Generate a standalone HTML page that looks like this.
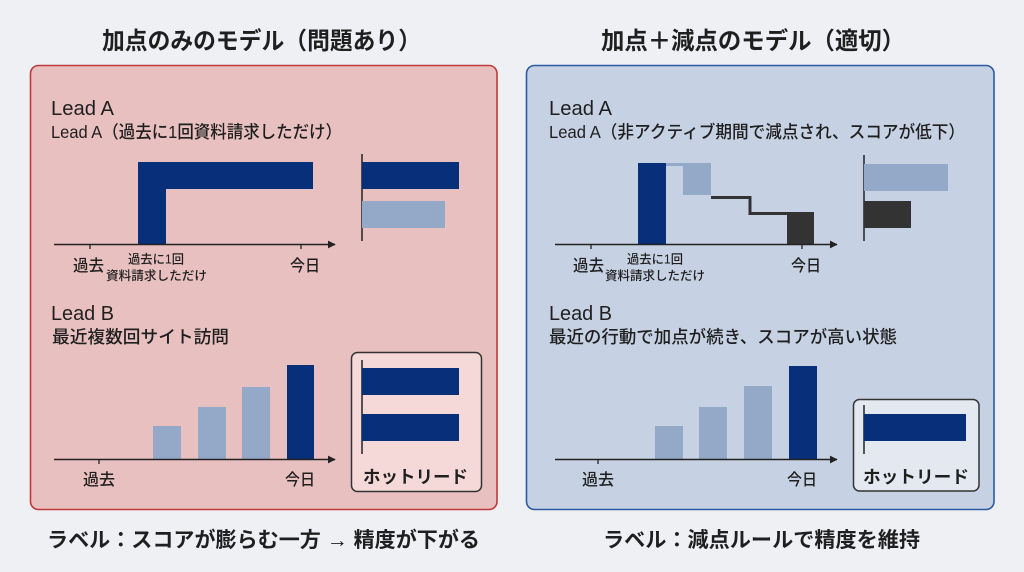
<!DOCTYPE html>
<html><head><meta charset="utf-8">
<style>
html,body{margin:0;padding:0;background:#eef0f4;}
svg{display:block;}
text{font-family:"Liberation Sans","Noto Sans CJK JP",sans-serif;fill:#1f1f1f;}
.t{font-weight:bold;font-size:24px;}
.cap{font-weight:bold;font-size:21px;}
.h{font-size:20px;font-weight:500;}
.s{font-size:17.5px;font-weight:500;}
.ax{font-size:16px;font-weight:500;}
.sm{font-size:12.5px;font-weight:500;}
.hot{font-size:17.5px;font-weight:bold;}
</style></head>
<body>
<svg width="1024" height="572" viewBox="0 0 1024 572" xmlns="http://www.w3.org/2000/svg">
<defs>
<marker id="ar" viewBox="0 0 10 10" refX="9" refY="5" markerWidth="8" markerHeight="8" markerUnits="userSpaceOnUse" orient="auto">
<path d="M0,0 L10,5 L0,10 z" fill="#222"/>
</marker>
</defs>
<rect width="1024" height="572" fill="#eef0f4"/>

<!-- Titles -->
<text class="t" x="102" y="49" textLength="319" lengthAdjust="spacingAndGlyphs">加点のみのモデル（問題あり）</text>
<text class="t" x="601" y="49" textLength="304" lengthAdjust="spacingAndGlyphs">加点＋減点のモデル（適切）</text>

<!-- Left panel -->
<rect x="30.5" y="65.5" width="466.5" height="444" rx="8" fill="#e8c0bf" stroke="#c0393a" stroke-width="1.6"/>
<text class="h" x="51" y="115" textLength="63" lengthAdjust="spacingAndGlyphs">Lead A</text>
<text class="s" x="51" y="138" textLength="291" lengthAdjust="spacingAndGlyphs">Lead A（過去に1回資料請求しただけ）</text>

<!-- chart A left -->
<rect x="138" y="162" width="28" height="82" fill="#08307a"/>
<rect x="138" y="162" width="175" height="27" fill="#08307a"/>
<line x1="54" y1="244.5" x2="335" y2="244.5" stroke="#222" stroke-width="1.5" marker-end="url(#ar)"/>
<line x1="90" y1="244" x2="90" y2="249" stroke="#222" stroke-width="1.3"/>
<line x1="301" y1="244" x2="301" y2="249" stroke="#222" stroke-width="1.3"/>
<text class="ax" x="73" y="271" textLength="31" lengthAdjust="spacingAndGlyphs">過去</text>
<text class="sm" x="128" y="263.5" textLength="56" lengthAdjust="spacingAndGlyphs">過去に1回</text>
<text class="sm" x="106" y="280" textLength="101" lengthAdjust="spacingAndGlyphs">資料請求しただけ</text>
<text class="ax" x="290" y="271" textLength="30" lengthAdjust="spacingAndGlyphs">今日</text>
<line x1="362" y1="154" x2="362" y2="241" stroke="#222" stroke-width="1.5"/>
<rect x="362" y="162" width="97" height="27" fill="#08307a"/>
<rect x="362" y="201" width="83" height="27" fill="#94a8c8"/>

<!-- Lead B left -->
<text class="h" x="51" y="320" textLength="63" lengthAdjust="spacingAndGlyphs">Lead B</text>
<text class="s" x="52" y="343" textLength="177" lengthAdjust="spacingAndGlyphs">最近複数回サイト訪問</text>
<rect x="153" y="426" width="28" height="33" fill="#94a8c8"/>
<rect x="198" y="407" width="28" height="52" fill="#94a8c8"/>
<rect x="242" y="387" width="28" height="72" fill="#94a8c8"/>
<rect x="287" y="365" width="27" height="94" fill="#08307a"/>
<line x1="54" y1="459.5" x2="335" y2="459.5" stroke="#222" stroke-width="1.5" marker-end="url(#ar)"/>
<line x1="99" y1="459" x2="99" y2="464" stroke="#222" stroke-width="1.3"/>
<text class="ax" x="83" y="485" textLength="32" lengthAdjust="spacingAndGlyphs">過去</text>
<text class="ax" x="285" y="485" textLength="30" lengthAdjust="spacingAndGlyphs">今日</text>
<rect x="351.5" y="352.5" width="130" height="139" rx="6" fill="#f5d9d8" stroke="#333" stroke-width="1.5"/>
<line x1="362" y1="360" x2="362" y2="454" stroke="#222" stroke-width="1.5"/>
<rect x="362" y="368" width="97" height="27" fill="#08307a"/>
<rect x="362" y="414" width="97" height="27" fill="#08307a"/>
<text class="hot" x="363" y="483" textLength="105" lengthAdjust="spacingAndGlyphs">ホットリード</text>

<!-- Right panel -->
<rect x="526.5" y="65.5" width="467.5" height="444" rx="8" fill="#c6d1e3" stroke="#2c5aa0" stroke-width="1.6"/>
<text class="h" x="549" y="115" textLength="63" lengthAdjust="spacingAndGlyphs">Lead A</text>
<text class="s" x="549" y="138" textLength="416" lengthAdjust="spacingAndGlyphs">Lead A（非アクティブ期間で減点され、スコアが低下）</text>

<rect x="638" y="163" width="28" height="81" fill="#08307a"/>
<rect x="666" y="163" width="17" height="3" fill="#94a8c8"/>
<rect x="683" y="163" width="28" height="32" fill="#94a8c8"/>
<polyline points="711,197.5 750,197.5 750,213.5 787,213.5" fill="none" stroke="#333" stroke-width="3"/>
<rect x="787" y="212" width="27" height="32" fill="#333"/>
<line x1="555" y1="244.5" x2="837" y2="244.5" stroke="#222" stroke-width="1.5" marker-end="url(#ar)"/>
<line x1="591" y1="244" x2="591" y2="249" stroke="#222" stroke-width="1.3"/>
<line x1="802" y1="244" x2="802" y2="249" stroke="#222" stroke-width="1.3"/>
<text class="ax" x="573" y="271" textLength="31" lengthAdjust="spacingAndGlyphs">過去</text>
<text class="sm" x="627" y="263.5" textLength="56" lengthAdjust="spacingAndGlyphs">過去に1回</text>
<text class="sm" x="605" y="280" textLength="100" lengthAdjust="spacingAndGlyphs">資料請求しただけ</text>
<text class="ax" x="791" y="271" textLength="30" lengthAdjust="spacingAndGlyphs">今日</text>
<line x1="864" y1="155" x2="864" y2="241" stroke="#222" stroke-width="1.5"/>
<rect x="864" y="164" width="84" height="27" fill="#94a8c8"/>
<rect x="864" y="201" width="47" height="27" fill="#333"/>

<text class="h" x="549" y="320" textLength="63" lengthAdjust="spacingAndGlyphs">Lead B</text>
<text class="s" x="549" y="343" textLength="348" lengthAdjust="spacingAndGlyphs">最近の行動で加点が続き、スコアが高い状態</text>
<rect x="655" y="426" width="28" height="33" fill="#94a8c8"/>
<rect x="699" y="407" width="28" height="52" fill="#94a8c8"/>
<rect x="744" y="386" width="28" height="73" fill="#94a8c8"/>
<rect x="789" y="366" width="28" height="93" fill="#08307a"/>
<line x1="555" y1="459.5" x2="837" y2="459.5" stroke="#222" stroke-width="1.5" marker-end="url(#ar)"/>
<line x1="598" y1="459" x2="598" y2="464" stroke="#222" stroke-width="1.3"/>
<text class="ax" x="582" y="485" textLength="32" lengthAdjust="spacingAndGlyphs">過去</text>
<text class="ax" x="787" y="485" textLength="30" lengthAdjust="spacingAndGlyphs">今日</text>
<rect x="853.5" y="399.5" width="125.5" height="91.5" rx="6" fill="#e4e9f1" stroke="#333" stroke-width="1.5"/>
<line x1="864" y1="405" x2="864" y2="454" stroke="#222" stroke-width="1.5"/>
<rect x="864" y="414" width="102" height="27" fill="#08307a"/>
<text class="hot" x="863" y="483" textLength="106" lengthAdjust="spacingAndGlyphs">ホットリード</text>

<!-- Captions -->
<text class="cap" x="47" y="547" textLength="433" lengthAdjust="spacingAndGlyphs">ラベル：スコアが膨らむ一方 → 精度が下がる</text>
<text class="cap" x="603" y="547" textLength="317" lengthAdjust="spacingAndGlyphs">ラベル：減点ルールで精度を維持</text>
</svg>
</body></html>
